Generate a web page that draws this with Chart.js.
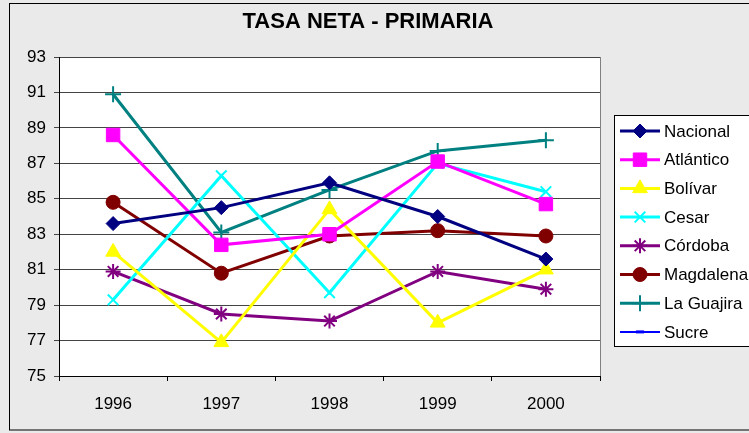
<!DOCTYPE html>
<html>
<head>
<meta charset="utf-8">
<script src="https://cdn.jsdelivr.net/npm/chart.js@4/dist/chart.umd.min.js"></script>
<style>
  html, body { margin: 0; padding: 0; background: #fff; }
  #wrap { width: 749px; height: 433px; }
</style>
</head>
<body>
<div id="wrap"><canvas id="chart" width="749" height="433"></canvas></div>
<script>
// datos de la gráfica
const years = ['1996', '1997', '1998', '1999', '2000'];
const nacional   = [83.6, 84.5, 85.9, 84.0, 81.6];
const atlantico  = [88.6, 82.4, 83.0, 87.1, 84.7];
const bolivar    = [82.0, 76.9, 84.4, 78.0, 81.0];
const cesar      = [79.3, 86.3, 79.7, 87.0, 85.4];
const cordoba    = [80.9, 78.5, 78.1, 80.9, 79.9];
const magdalena  = [84.8, 80.8, 82.9, 83.2, 82.9];
const laGuajira  = [90.9, 83.1, 85.5, 87.7, 88.3];
const sucre      = [null, null, null, null, null];

const FONT = '"Liberation Sans", Arial, sans-serif';

function serie(label, data, color, style, radius, width) {
    return {
        label: label,
        data: data,
        borderColor: color,
        backgroundColor: color,
        pointStyle: style,
        pointRadius: radius,
        pointHoverRadius: radius,
        pointBorderWidth: width,
        borderWidth: 3,
        tension: 0
    };
}

const datasets = [
    serie('Nacional', nacional, '#000080', 'rectRot', 7, 1),
    serie('Atlántico', atlantico, '#FF00FF', 'rect', 9.5, 1),
    serie('Bolívar', bolivar, '#FFFF00', 'triangle', 8.5, 1),
    serie('Cesar', cesar, '#00FFFF', 'crossRot', 7.5, 2),
    serie('Córdoba', cordoba, '#800080', 'star', 7.5, 2),
    serie('Magdalena', magdalena, '#800000', 'circle', 7, 1),
    serie('La Guajira', laGuajira, '#008080', 'cross', 8, 2),
    serie('Sucre', sucre, '#0000FF', 'line', 4, 3)
];
datasets[7].borderWidth = 2;

// fondo, bordes, título y leyenda
const decor = {
    id: 'decor',
    beforeDraw(chart) {
        const c = chart.ctx, a = chart.chartArea;
        c.save();
        c.fillStyle = '#EAEAEA';
        c.fillRect(0, 0, chart.width, chart.height);
        c.strokeStyle = '#000';
        c.lineWidth = 1;
        c.strokeRect(9.5, 3.5, chart.width + 10, 426.5);
        c.fillStyle = '#fff';
        c.fillRect(a.left, a.top, a.right - a.left, a.bottom - a.top);
        c.strokeStyle = '#808080';
        c.strokeRect(a.left + 0.5, a.top + 0.5, a.right - a.left, a.bottom - a.top);
        c.restore();
    },
    afterDraw(chart) {
        const c = chart.ctx;
        c.save();
        c.fillStyle = '#000';
        c.font = 'bold 22px ' + FONT;
        c.textAlign = 'center';
        c.textBaseline = 'middle';
        c.fillText('TASA NETA - PRIMARIA', 368, 22);

        // leyenda
        const lx = 614, ly = 115, lh = 28.7;
        c.fillStyle = '#fff';
        c.fillRect(lx, ly, 200, 232);
        c.strokeStyle = '#000';
        c.lineWidth = 1;
        c.strokeRect(lx + 0.5, ly + 0.5, 200, 231);
        c.font = '17px ' + FONT;
        c.textAlign = 'left';
        chart.data.datasets.forEach((ds, i) => {
            const y = ly + 16 + i * lh;
            c.strokeStyle = ds.borderColor;
            c.lineWidth = ds.borderWidth;
            c.beginPath();
            c.moveTo(lx + 6, y);
            c.lineTo(lx + 46, y);
            c.stroke();
            c.fillStyle = ds.backgroundColor;
            c.lineWidth = ds.pointBorderWidth;
            Chart.helpers.drawPoint(c, {
                pointStyle: ds.pointStyle,
                radius: ds.pointRadius,
                borderWidth: ds.pointBorderWidth,
                rotation: 0
            }, lx + 26, y);
            c.fillStyle = '#000';
            c.fillText(ds.label, lx + 50, y + 1);
        });
        c.restore();
    }
};

new Chart(document.getElementById('chart'), {
    type: 'line',
    data: { labels: years, datasets: datasets },
    options: {
        responsive: false,
        animation: false,
        layout: { padding: { top: 57, right: 149, left: 0, bottom: 0 } },
        plugins: {
            legend: { display: false },
            title: { display: false },
            tooltip: { enabled: false }
        },
        scales: {
            x: {
                offset: true,
                afterFit(s) { s.height = 57; },
                grid: {
                    offset: true,
                    drawOnChartArea: false,
                    drawTicks: true,
                    tickLength: 5,
                    color: '#000'
                },
                border: { color: '#000', width: 1 },
                ticks: {
                    color: '#000',
                    padding: 13,
                    font: { family: FONT, size: 17 }
                }
            },
            y: {
                min: 75,
                max: 93,
                afterFit(s) { s.width = 59; },
                grid: {
                    color: '#444',
                    tickLength: 5,
                    drawTicks: true
                },
                border: { color: '#000', width: 1 },
                ticks: {
                    stepSize: 2,
                    color: '#000',
                    padding: 8,
                    font: { family: FONT, size: 17 }
                }
            }
        }
    },
    plugins: [decor]
});
</script>
</body>
</html>
